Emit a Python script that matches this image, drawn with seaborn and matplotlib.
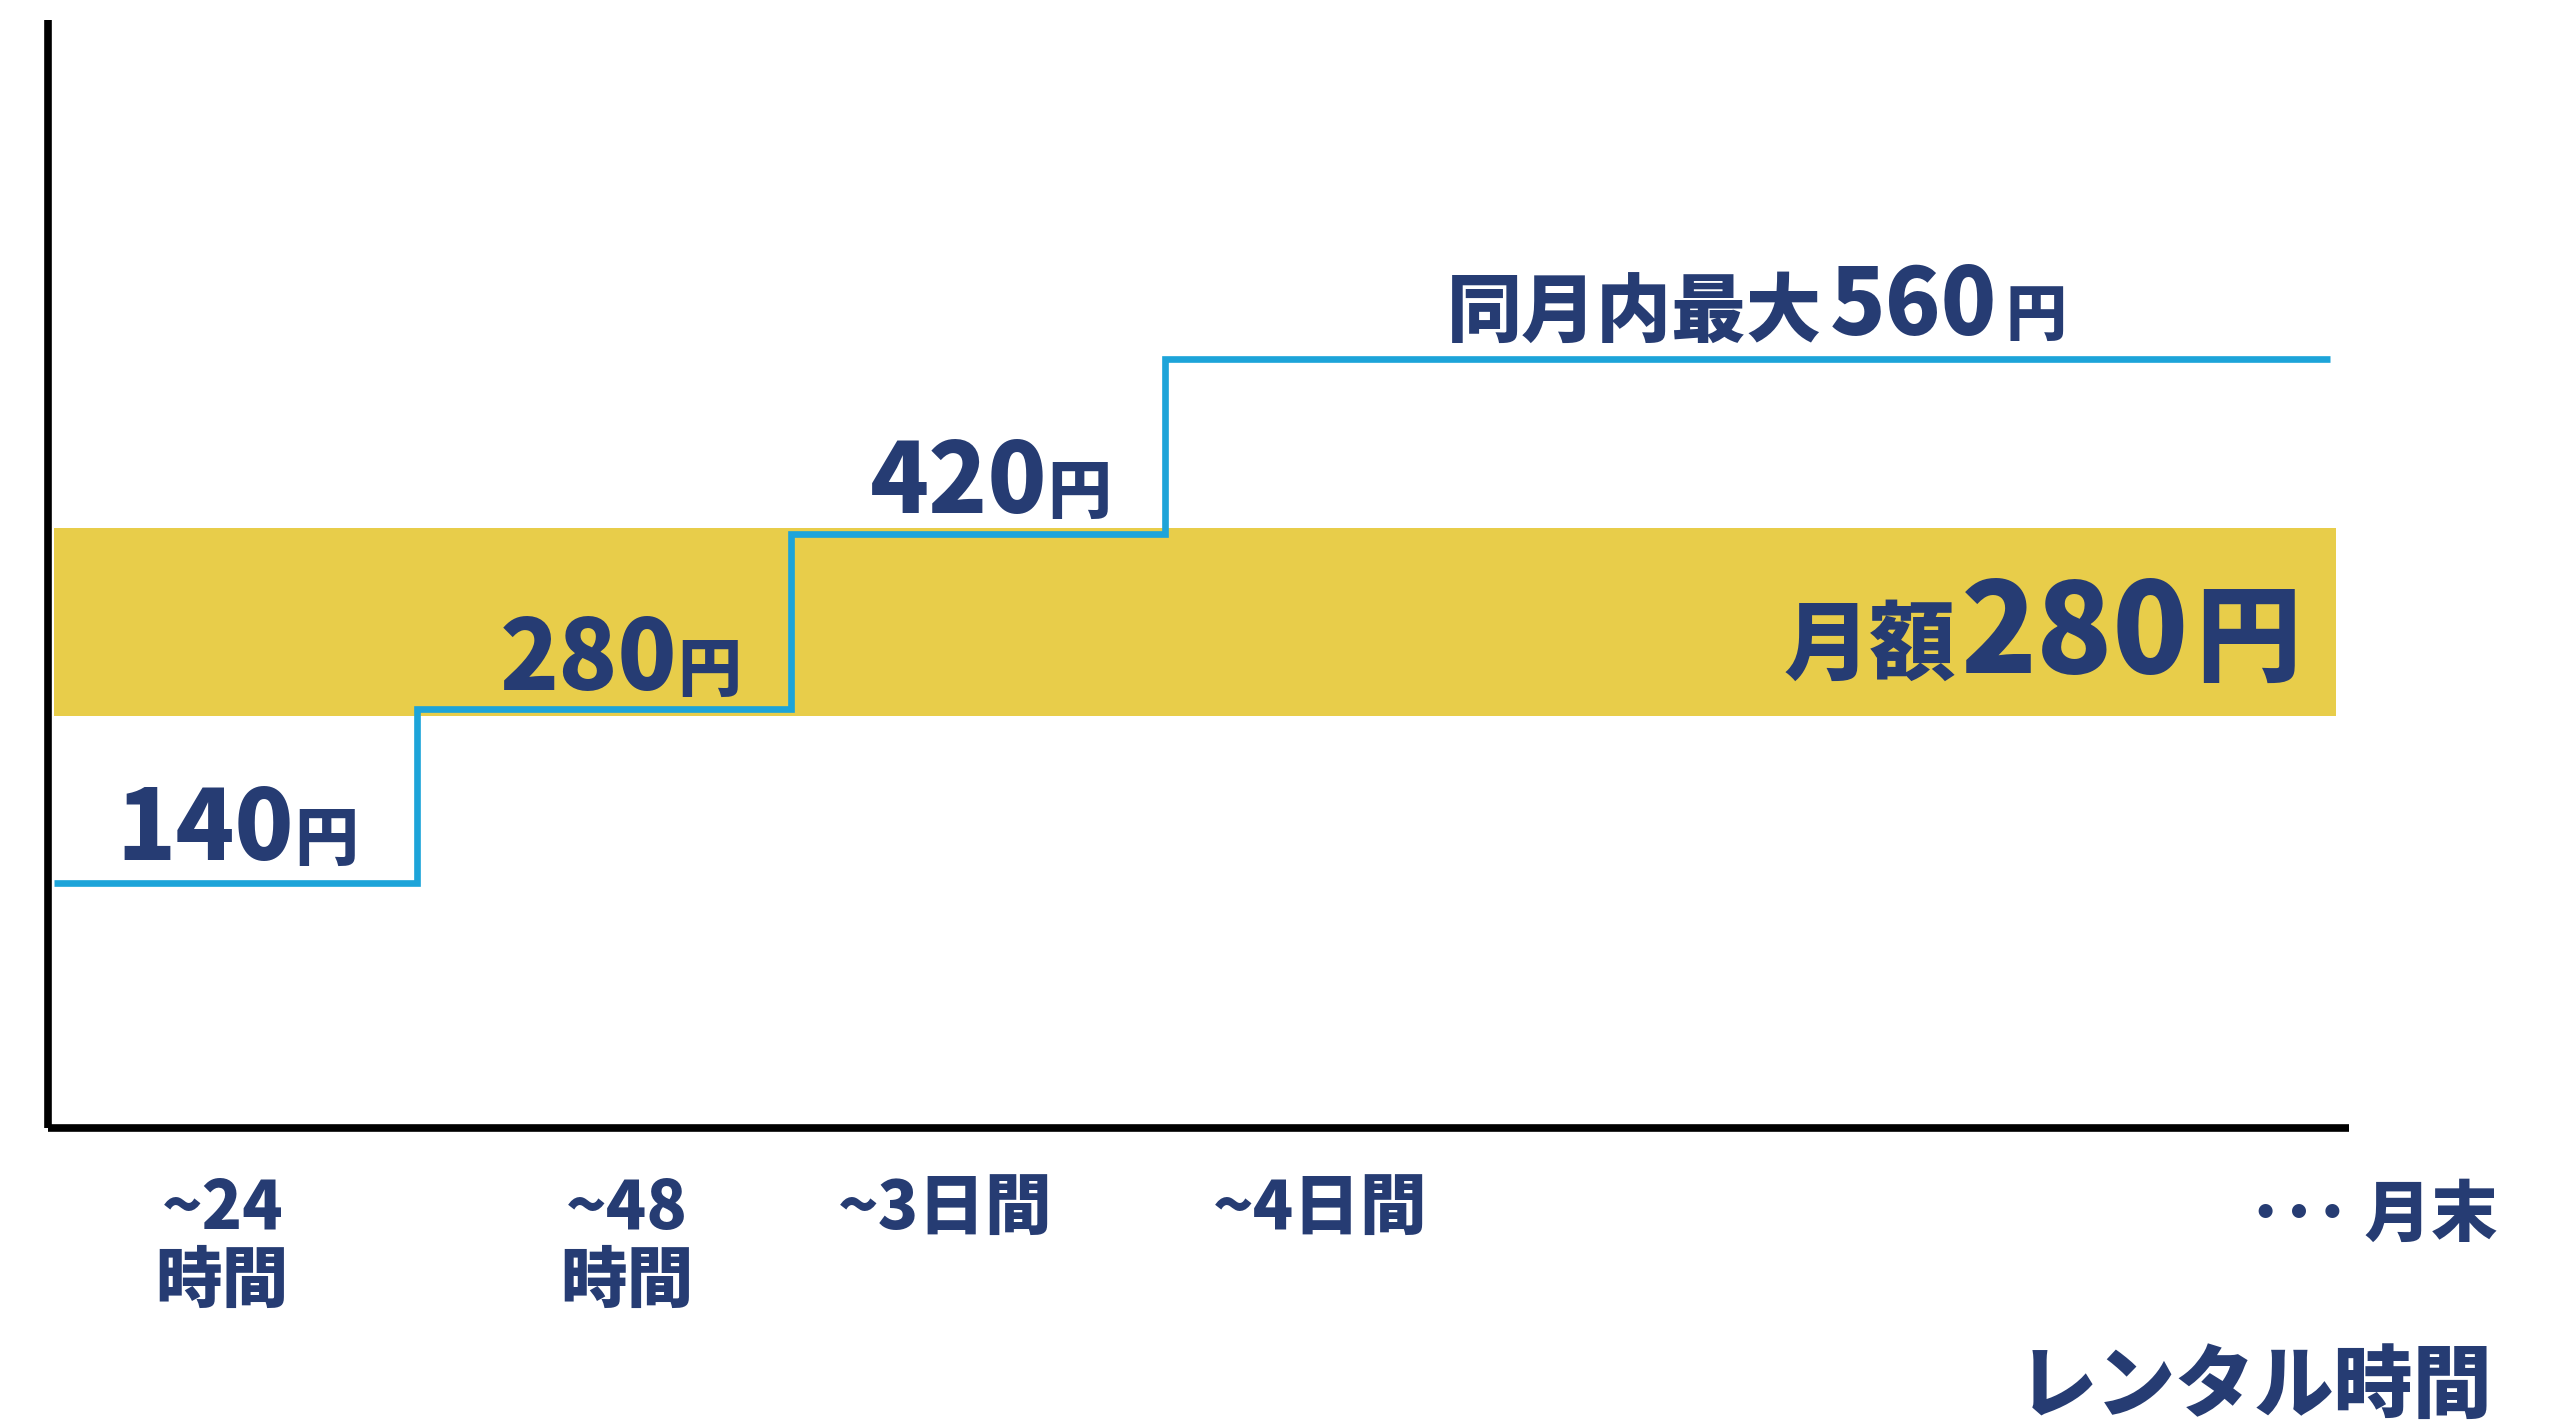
import matplotlib
matplotlib.use("Agg")
import matplotlib.pyplot as plt
import seaborn as sns
import pandas as pd
from matplotlib.offsetbox import TextArea, HPacker, AnnotationBbox

# ---------------- data ----------------
step_x = [0.0, 0.98, 1.99, 3.0, 6.15]          # rental-time breakpoints (arbitrary units)
step_price = [140, 280, 420, 560, 560]          # price (yen)
band_x = [0.0, 6.165]
band_low = 274
band_high = 425
price_values = ["140", "280", "420"]
price_label_x = [0.494, 1.531, 2.53]
price_label_y = [182.0, 318.0, 460.0]
max_prefix = "同月内最大"
max_value = "560"
max_label_xy = (4.60, 601.3)
monthly_prefix = "月額"
monthly_value = "280"
monthly_label_xy = (6.07, 338.0)
yen = "円"
tick_x = [0.454, 1.546, 2.408, 3.42]
tick_labels = ["~24\n時間", "~48\n時間", "~3日間", "~4日間"]
end_label = "･･･ 月末"
end_label_x = 6.265
xlabel = "レンタル時間"
xlabel_x = 6.589

# ---------------- style ----------------
navy = "#263C73"
blue = "#1DA4D9"
yellow = "#E8CD4A"
sns.set_theme(style="white")
plt.rcParams["font.family"] = ["Noto Sans CJK JP", "DejaVu Sans"]

W, H = 1568, 871
fig = plt.figure(figsize=(25.72, 14.28), dpi=100)
ax = fig.add_axes([29 / W, 1 - 688 / H, (1432 - 29) / W, (688 - 12) / H])
ax.set_xlim(-0.018, 6.2)
ax.set_ylim(-56, 832)

ax.fill_between(band_x, band_low, band_high, color=yellow, lw=0, zorder=0)

df = pd.DataFrame({"time": step_x, "price": step_price})
sns.lineplot(data=df, x="time", y="price", drawstyle="steps-post", color=blue,
             linewidth=4.8, ax=ax, zorder=3, solid_joinstyle="miter",
             solid_capstyle="butt")

sns.despine(ax=ax, top=True, right=True)
for s in ["left", "bottom"]:
    ax.spines[s].set_linewidth(5.5)
    ax.spines[s].set_color("black")
    ax.spines[s].set_capstyle("butt")
ax.set_yticks([])
ax.set_ylabel("")
ax.set_xlabel("")
ax.set_xticks(tick_x)
ax.set_xticklabels(tick_labels, linespacing=1.1)
ax.tick_params(axis="x", length=0, pad=34, labelsize=48, labelcolor=navy)
for lbl in ax.get_xticklabels():
    lbl.set_fontweight("heavy")


def mixed_label(parts, xy, align=(0.5, 0.5), sep=0):
    areas = [TextArea(t, textprops=dict(fontsize=s, color=navy,
                                        fontweight="heavy"))
             for t, s in parts]
    box = HPacker(children=areas, align="baseline", pad=0, sep=sep)
    ab = AnnotationBbox(box, xy, xycoords="data", box_alignment=align,
                        frameon=False, pad=0, annotation_clip=False, zorder=5)
    ax.add_artist(ab)


for v, x, y in zip(price_values, price_label_x, price_label_y):
    mixed_label([(v, 70), (yen, 46)], (x, y))

mixed_label([(max_prefix, 54), (max_value, 66), (yen, 44)], max_label_xy, sep=6)
mixed_label([(monthly_prefix, 62), (monthly_value, 90), (yen, 76)],
            monthly_label_xy, align=(1, 0.5), sep=4)

ax.text(end_label_x, -127, end_label, ha="center", va="center", fontsize=48,
        color=navy, fontweight="heavy", clip_on=False)
ax.text(xlabel_x, -264, xlabel, ha="right", va="center", fontsize=57,
        color=navy, fontweight="heavy", clip_on=False)

fig.savefig("out.png", dpi=100, facecolor="white")
